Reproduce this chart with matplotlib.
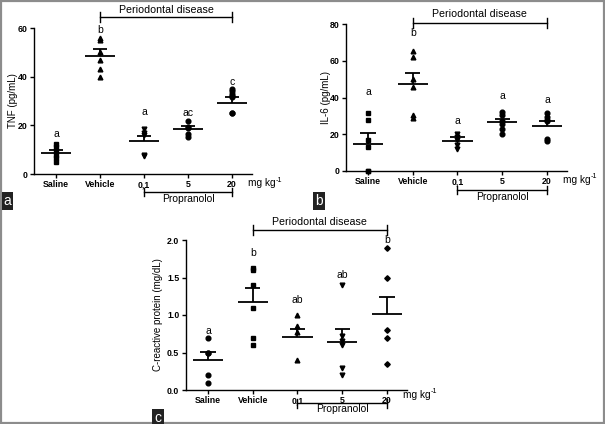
import matplotlib
matplotlib.use("Agg")
import matplotlib.pyplot as plt
from matplotlib.patches import Rectangle
import matplotlib.transforms as mtransforms

plt.rcParams['font.family'] = ['Liberation Sans', 'DejaVu Sans']

groups = ["Saline", "Vehicle", "0,1", "5", "20"]

# TNF (pg/mL)
tnf_points = [[12.5, 11, 9.5, 8, 6.5, 5],
              [56, 55, 50, 47, 43, 40],
              [18.5, 17, 16, 8, 7.5],
              [21.7, 19.5, 18.8, 16.5, 15.2],
              [35, 34, 33, 32, 31.5, 25, 25]]
tnf_mean = [8.6, 48.6, 13.5, 18.6, 29.2]
tnf_sem = [1.2, 2.6, 2.2, 1.3, 2.5]
tnf_letters = ["a", "b", "a", "ac", "c"]
tnf_letter_y = [16.4, 59, 25.5, 25, 37.8]

# IL-6 (pg/mL)
il6_points = [[31.5, 28, 17, 13, 0, 0],
              [65.5, 61.8, 49.8, 45.5, 30.5, 29],
              [20, 18.5, 17, 14, 12],
              [32, 30.5, 27, 25.5, 23, 20],
              [31.5, 29.5, 28, 27, 17.5, 16.5]]
il6_mean = [14.9, 47.3, 16.5, 26.5, 24.7]
il6_sem = [5.8, 6.2, 1.9, 2.0, 2.6]
il6_letters = ["a", "b", "a", "a", "a"]
il6_letter_y = [43, 75, 27.3, 40.7, 38.9]

# C-reactive protein (mg/dL)
crp_points = [[0.7, 0.5, 0.5, 0.2, 0.1],
              [1.63, 1.6, 1.4, 1.1, 0.7, 0.6],
              [1.0, 0.85, 0.78, 0.4],
              [1.4, 0.72, 0.65, 0.6, 0.3, 0.2],
              [1.9, 1.49, 0.8, 0.7, 0.35]]
crp_mean = [0.40, 1.17, 0.71, 0.64, 1.01]
crp_sem = [0.11, 0.19, 0.10, 0.18, 0.23]
crp_letters = ["a", "b", "ab", "ab", "b"]
crp_letter_y = [0.78, 1.82, 1.2, 1.53, 2.0]

W, H = 605, 424
fig = plt.figure(figsize=(W / 100, H / 100), dpi=100)


def px_axes(left, top, right, bottom):
    return fig.add_axes([left / W, 1 - bottom / H, (right - left) / W, (bottom - top) / H])


def yticks_fmt(ticks):
    if all(float(t).is_integer() for t in ticks):
        return [str(int(t)) for t in ticks]
    return ["%.1f" % t for t in ticks]


def panel(ax, points, mean, sem, letters, letter_y, markers, ymax, yticks, ylabel, ylab_x,
          pd_y, pd_txt, pr_y, pr_txt, mg_y):
    for i, pts in enumerate(points):
        ms = 2.8 if markers[i] == 'D' else 3.4
        ax.plot([i] * len(pts), pts, linestyle='none', marker=markers[i],
                markersize=ms, color='black', clip_on=False, zorder=3)
        ax.hlines(mean[i], i - 0.34, i + 0.34, color='black', lw=1.3, zorder=4)
        ax.hlines(mean[i] + sem[i], i - 0.17, i + 0.17, color='black', lw=1.3, zorder=4)
        ax.vlines(i, mean[i], mean[i] + sem[i], color='black', lw=1.3, zorder=4)
        ax.text(i, letter_y[i], letters[i], ha='center', va='center', fontsize=7.5)
    ax.set_xlim(-0.5, 4.45)
    ax.set_ylim(0, ymax)
    ax.set_yticks(yticks)
    ax.set_yticklabels(yticks_fmt(yticks), fontsize=6.3, fontweight='bold')
    ax.set_xticks(range(5))
    ax.set_xticklabels(groups, fontsize=6.3, fontweight='bold')
    ax.set_ylabel(ylabel, fontsize=7)
    ax.yaxis.set_label_coords(ylab_x, 0.5)
    for s in ['top', 'right']:
        ax.spines[s].set_visible(False)
    for s in ['left', 'bottom']:
        ax.spines[s].set_linewidth(1.0)
    ax.tick_params(length=3, width=1, pad=1.5)
    trans = mtransforms.blended_transform_factory(ax.transData, ax.transAxes)
    # Periodontal disease bracket
    ax.plot([1, 4], [pd_y, pd_y], color='black', lw=1, transform=trans, clip_on=False)
    for x in [1, 4]:
        ax.plot([x, x], [pd_y - 0.035, pd_y + 0.035], color='black', lw=1,
                transform=trans, clip_on=False)
    ax.text(2.5, pd_txt, "Periodontal disease", ha='center', va='bottom',
            fontsize=7.7, transform=trans)
    # Propranolol bracket
    ax.plot([2, 4], [pr_y, pr_y], color='black', lw=1, transform=trans, clip_on=False)
    for x in [2, 4]:
        ax.plot([x, x], [pr_y - 0.03, pr_y + 0.03], color='black', lw=1,
                transform=trans, clip_on=False)
    ax.text(3, pr_txt, "Propranolol", ha='center', va='top', fontsize=7.4, transform=trans)
    t = ax.text(4.36, mg_y, "mg kg", ha='left', va='center', fontsize=7.3, transform=trans)
    ax.annotate("-1", xy=(0.99, 0.45), xycoords=t, ha='left', va='bottom', fontsize=5.2)


ax_a = px_axes(34, 28, 34 + 4.95 * 44, 174)
panel(ax_a, tnf_points, tnf_mean, tnf_sem, tnf_letters, tnf_letter_y,
      ['s', '^', 'v', 'o', 'o'], 60, [0, 20, 40, 60], "TNF (pg/mL)", -0.075,
      1.075, 1.088, -0.123, -0.135, -0.062)

ax_b = px_axes(345.6, 24, 345.6 + 4.95 * 44.75, 171)
panel(ax_b, il6_points, il6_mean, il6_sem, il6_letters, il6_letter_y,
      ['s', '^', 'v', 'o', 'o'], 80, [0, 20, 40, 60, 80], "IL-6 (pg/mL)", -0.068,
      1.007, 1.031, -0.129, -0.143, -0.061)

ax_c = px_axes(185.6, 240, 185.6 + 4.95 * 44.75, 390)
panel(ax_c, crp_points, crp_mean, crp_sem, crp_letters, crp_letter_y,
      ['o', 's', '^', 'v', 'D'], 2.0, [0.0, 0.5, 1.0, 1.5, 2.0],
      "C-reactive protein (mg/dL)", -0.1,
      1.067, 1.087, -0.087, -0.095, -0.033)

# panel labels
for x, y, lab in [(7.5, 201, "a"), (319, 201, "b"), (158, 418, "c")]:
    fig.text(x / W, 1 - y / H, lab, color='white', fontsize=10, ha='center', va='center',
             bbox=dict(boxstyle='square,pad=0.15', fc='#222222', ec='none'))

# outer border
fig.patches.append(Rectangle((0.0015, 0.002), 0.997, 0.996, transform=fig.transFigure,
                             fill=False, ec='#8c8c8c', lw=1.6))

fig.savefig("out.png", dpi=100)
